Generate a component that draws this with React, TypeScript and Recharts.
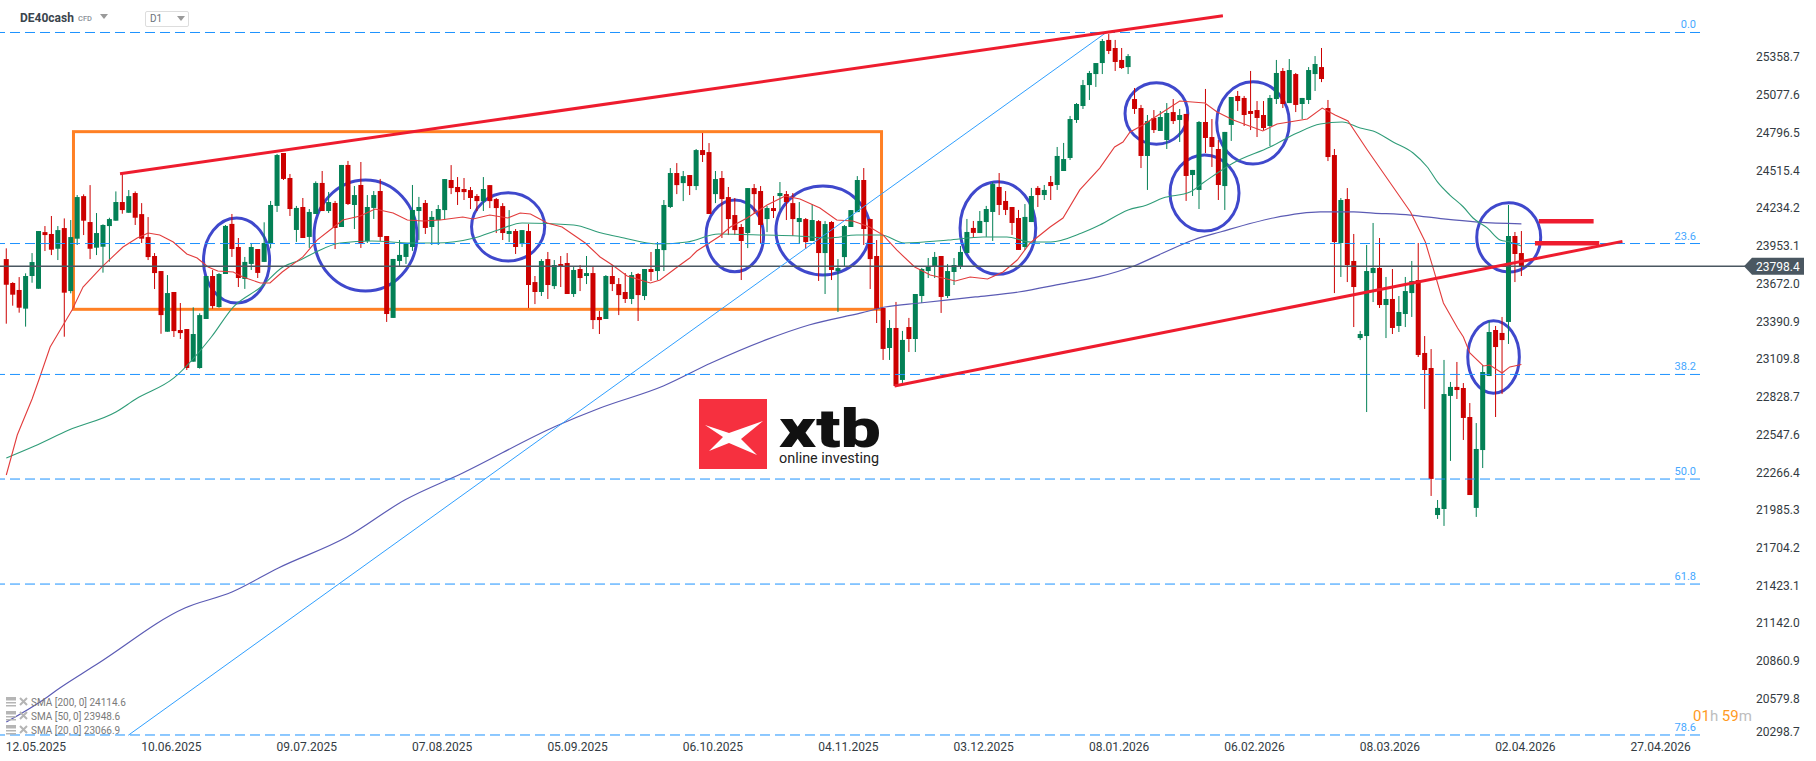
import React from "react";
import { ComposedChart, Bar, Line, XAxis, YAxis, ReferenceLine, ReferenceArea } from "recharts";

const candleOpen = [
23852,23674,23622,23483,23726,23631,24053,24039,23929,24083,
23614,24004,24321,24128,23937,23944,24098,24138,24277,24197,
24344,24187,24016,23875,23763,23311,23607,23324,23331,23088,
23041,23406,23726,23495,23741,24114,23942,23704,23816,23927,
23831,23965,24248,24642,24456,24069,24240,24017,24188,24419,
24210,24270,24091,24553,24255,24404,23987,24233,24359,24024,
23414,23838,23868,23942,24210,24270,24091,24143,24217,24441,
24389,24374,24366,24322,24284,24403,24299,24247,24039,24061,
23964,24061,23681,23607,23852,23651,23815,23823,23592,23778,
23726,23748,23421,23406,23726,23666,23607,23555,23741,23577,
23778,23763,23919,24240,24493,24418,24478,24396,24664,24649,
24336,24456,24314,24180,24091,24046,24381,24359,24150,24232,
24322,24336,24269,24128,24150,23987,24135,23897,24128,23763,
23867,24091,24202,24441,24150,23875,23488,23190,23339,22952,
23346,23257,23577,23763,23800,23875,23577,23756,23793,23897,
24084,24046,24128,24203,24389,24285,24240,24158,23942,24128,
24382,24329,24426,24404,24508,24605,24888,24992,25148,25230,
25312,25484,25424,25335,25282,25044,24977,24620,24903,24806,
24739,24947,24888,24933,24478,24367,24873,24761,24672,24396,
24851,25067,25052,24955,24962,24925,24843,25044,25253,25014,
25230,25007,25037,25230,25282,24977,24627,23972,24299,23838,
23264,23279,23748,23786,23510,23555,23354,23443,23599,23696,
23153,23041,21946,21991,22833,22900,22892,22676,21999,22430,
22981,23324,23302,23384,24024,23897];

const candleHigh = [
23932,23680,23718,23746,23897,24061,24098,24173,24098,24155,
24143,24329,24334,24403,24195,24111,24160,24356,24485,24366,
24356,24269,24165,23897,23763,23733,23607,23525,23331,23493,
23448,23726,23770,23748,24106,24188,24009,23868,23972,23927,
24126,24285,24635,24642,24486,24248,24307,24225,24431,24508,
24352,24285,24553,24583,24396,24575,24329,24359,24449,24024,
23853,23994,23965,24404,24315,24292,24210,24255,24448,24552,
24463,24456,24389,24336,24463,24403,24307,24269,24217,24076,
24068,24113,23726,23852,23905,23845,23875,23897,23793,23808,
23875,23793,23465,23733,23808,23711,23748,23756,23748,23778,
23905,23979,24292,24530,24567,24508,24478,24672,24791,24716,
24508,24508,24389,24307,24113,24381,24411,24396,24247,24322,
24426,24359,24344,24277,24158,24262,24143,24135,24135,23852,
24106,24217,24470,24530,24153,23994,23488,23398,23533,23317,
23414,23592,23786,23860,23905,23875,23815,23860,23950,24151,
24136,24210,24248,24426,24493,24359,24240,24218,24262,24382,
24396,24404,24471,24687,24717,24918,25014,25186,25253,25312,
25491,25528,25484,25424,25379,25126,25000,24925,24962,24955,
25014,25044,24970,24933,24516,24880,25119,24895,24739,24799,
25059,25104,25067,25253,25029,25029,25074,25335,25275,25342,
25238,25052,25282,25364,25424,25037,24672,24307,24381,24039,
23317,23957,24121,24009,23719,23778,23577,23719,23838,23972,
23279,23182,22058,23101,22937,23086,22929,22780,22631,23063,
23391,23354,23421,24255,24054,24061];

const candleLow = [
23371,23505,23453,23349,23676,23631,23912,23882,23845,23274,
23597,23957,24031,23852,23882,23751,23833,24138,24190,24197,
24106,23972,23845,23629,23296,23311,23272,23257,23026,23088,
23036,23406,23483,23490,23741,23868,23644,23630,23771,23711,
23831,23932,24203,24441,24173,23980,24009,23935,24188,24210,
24195,23927,24091,24255,24076,23935,23972,24151,23987,23384,
23414,23801,23816,23913,23994,24039,23957,23957,24143,24336,
24255,24292,24225,24210,24210,24232,24046,23994,23979,23890,
23942,23488,23517,23577,23555,23629,23644,23592,23570,23614,
23666,23331,23294,23406,23614,23435,23525,23517,23391,23547,
23689,23696,23763,24232,24336,24284,24329,24366,24575,24188,
24269,24009,24031,24031,23696,23934,24188,23969,24053,24158,
24217,24143,24024,23969,23927,23987,23689,23592,23696,23458,
23793,24091,24202,23957,23629,23376,23101,23101,22900,22930,
23160,23160,23525,23711,23711,23451,23562,23659,23778,23897,
24010,24046,24017,23987,24180,24180,24032,23920,23920,24128,
24240,24292,24292,24367,24508,24590,24866,24970,25037,25134,
25230,25379,25253,25268,25230,24933,24530,24367,24791,24806,
24672,24858,24724,24285,24322,24225,24642,24538,24292,24218,
24732,24955,24843,24813,24761,24813,24694,25007,24977,25014,
24947,24895,25007,25104,25170,24582,23599,23719,23681,23346,
23249,22713,23532,23488,23264,23294,23309,23346,23421,23123,
22736,22088,21917,21865,22349,22810,22505,22095,21932,22296,
22981,22676,22847,23220,23681,23726];

const candleClose = [
23661,23587,23490,23726,23830,24061,24031,23922,24068,23602,
24016,24314,24138,23929,24046,24106,24150,24277,24217,24321,
24160,24004,23867,23748,23435,23599,23316,23301,23041,23294,
23435,23726,23502,23741,24099,23927,23711,23831,23942,23749,
23972,24255,24627,24449,24225,24233,24009,24203,24419,24210,
24277,24084,24553,24262,24329,23972,24240,24329,24017,23443,
23853,23883,23965,24218,24240,24084,24166,24225,24448,24381,
24351,24351,24307,24284,24374,24284,24232,24046,24061,23942,
24068,23659,23607,23838,23659,23808,23800,23592,23771,23711,
23748,23398,23398,23726,23666,23584,23555,23733,23584,23778,
23756,23927,24255,24493,24403,24470,24396,24664,24627,24188,
24448,24299,24150,24068,23987,24381,24336,24106,24232,24210,
24344,24277,24150,24158,23979,24143,23897,24113,23771,23785,
24098,24217,24441,24076,23852,23483,23183,23339,22907,23250,
23257,23592,23778,23800,23868,23570,23763,23808,23905,24054,
24047,24136,24225,24411,24255,24218,24121,23920,24166,24322,
24329,24367,24396,24620,24597,24895,25007,25148,25238,25312,
25476,25402,25320,25275,25364,24970,24620,24880,24813,24910,
24940,24880,24925,24471,24516,24873,24754,24687,24404,24799,
25059,25029,24925,24933,24903,24828,25052,25238,25007,25260,
25000,25052,25260,25305,25193,24612,23979,24292,23808,23644,
23294,23763,23786,23510,23555,23339,23458,23614,23689,23138,
23026,22215,21999,22847,22900,22877,22669,22095,22438,23011,
23309,23197,23249,24024,23890,23798];

const sma20Idx = [1,2.7,5,6.1,7.8,11.2,12.9,15.8,19.1,21.3,23,24.8,26.9,29,30.6,32.3,33.8,36.2,37.7,40.4,41.9,43.8,47,49.2,51.2,53.2,55.9,58.2,61,63.2,65.6,68.3,71.8,73.4,76,78.8,80.7,82.3,84.9,87.2,89,90.8,93.1,95,97.3,100.9,102.4,105.5,107,108.1,111.7,113.3,115.9,119,121.8,124.1,127.2,129.8,132.3,134.9,137,139.1,141.9,144.3,148.2,150.5,153.2,155.6,157.8,159.8,162.9,164.9,167.5,170.6,172.9,174.2,175.3,177.3,180.4,183,186.9,188.8,191.3,195.9,198.1,202.8,205.1,207.1,209.1,212.1,216.1,218.8,221.1,222.3,223.9,226.1,227,228,230.1,231.1,233,234.2,236];
const sma20Val = [22244,22542,22810,22959,23197,23473,23644,23793,23942,24009,24046,24031,23979,23890,23860,23793,23763,23756,23719,23674,23674,23756,23868,23994,24069,24143,24173,24225,24195,24143,24136,24143,24165,24151,24180,24158,24195,24188,24121,24091,24031,23972,23868,23808,23726,23674,23696,23808,23860,23912,24024,24091,24158,24255,24322,24300,24233,24143,24136,24091,24031,23920,23793,23734,23689,23719,23704,23756,23845,23972,24091,24158,24367,24530,24687,24724,24799,24851,24947,25029,25014,24947,24888,24806,24858,24895,24977,24925,24880,24664,24389,24203,23979,23786,23525,23339,23272,23153,23056,23063,23004,23049,23067];

const sma50Idx = [1,5.4,10.7,18,21.1,27,32.8,36.2,40.5,43.9,46.6,49,52.8,57.7,63.8,67.5,73.6,77.3,81,89,93.3,96.1,102.2,106.6,111.5,118.8,123.8,128.6,132.9,136.7,140.3,147.1,152.5,156.2,159.9,163,167.8,170.6,175,177.9,180.4,184.6,186.6,191.3,197,201.2,204.8,208.2,211,213,216.1,219.2,221.4,223.1,224.9,227,228.5,230.7,232.7,234.2,236];
const sma50Val = [22371,22460,22579,22713,22810,22967,23272,23495,23644,23793,23845,23905,23972,23987,23972,23972,24009,24069,24121,24106,24046,24017,23964,23979,24039,24031,24024,24009,24031,24031,23972,23994,24017,24017,23979,23979,24046,24106,24218,24255,24307,24352,24419,24568,24687,24791,24858,24873,24828,24806,24724,24642,24538,24419,24329,24240,24158,24084,23994,23979,23949];

const sma200Idx = [1,6.7,9.3,12.9,15.1,28.7,36,43.2,53.8,62.8,71.8,86.3,93.1,102.9,110.3,118.8,125.5,133.6,137.3,142.7,151.3,158,164.7,170.3,175.9,180.4,185.1,189.3,197.5,204.8,210,213,218.8,223.9,229.2,236];
const sma200Val = [20405,20569,20658,20770,20837,21254,21373,21552,21782,22058,22259,22609,22743,22907,23078,23250,23361,23451,23495,23525,23570,23607,23667,23719,23801,23897,23994,24054,24158,24203,24203,24195,24180,24151,24128,24115];

const xTickIdx = [5.6,26.6,47.6,68.6,89.6,110.6,131.6,152.6,173.6,194.6,215.6,236.6,257.6];
const xTickLabels = ["12.05.2025","10.06.2025","09.07.2025","07.08.2025","05.09.2025","06.10.2025","04.11.2025","03.12.2025","08.01.2026","06.02.2026","08.03.2026","02.04.2026","27.04.2026"];
const yTicks = [25358.7,25077.6,24796.5,24515.4,24234.2,23953.1,23672.0,23390.9,23109.8,22828.7,22547.6,22266.4,21985.3,21704.2,21423.1,21142.0,20860.9,20579.8,20298.7];
const lastPrice = 23798.4;

const fibLevels = [25539.5,23968,22993,22214,21432,20308];
const fibLabels = ["0.0","23.6","38.2","50.0","61.8","78.6"];

// annotations in chart units: index from, index to, price from, price to
const rangeBox = [11.42,136.75,24801,23478];
const trendLines = [[18.64,24488,189.7,25664.6],[138.77,22907,251.67,23984]];
const shortLines = [[238.7,24133.5,247.2,24133.5],[238.1,23969.6,248.07,23969.6]];
const fibDiagonal = [19.92,20306,171.6,25539.5];
const circles = [
  [31.59,41.84,24158,23525],[48.73,64.7,24441,23614],[73.16,84.51,24346,23838],
  [109.52,118.46,24292,23758],[120.37,134.97,24396,23734],[148.93,160.67,24428,23739],
  [174.52,184.25,25166,24707],[188.74,200,25173,24560],[181.5,192.2,24627,24061],
  [229.07,238.99,24272,23756],[227.68,235.68,23393,22853],
];

const legendRows = ["SMA [200, 0] 24114.6","SMA [50, 0] 23948.6","SMA [20, 0] 23066.9"];

const candles = candleOpen.map((o, n) => ({
  i: n + 1, open: o, high: candleHigh[n], low: candleLow[n], close: candleClose[n],
  range: [candleLow[n], candleHigh[n]],
}));
const toPoints = (idx: number[], val: number[]) => idx.map((i, n) => ({ i, v: val[n] }));

const RED = "#cc0000";
const GREEN = "#038055";
const FONT = "Roboto, sans-serif";
const BODY_WIDTH = 5;

function CandleShape(p: any) {
  const { x, y, width, height, payload } = p;
  const { open, close, high, low } = payload;
  const k = height / Math.max(high - low, 1);
  const top = y + (high - Math.max(open, close)) * k;
  const bottom = y + (high - Math.min(open, close)) * k;
  const col = close >= open ? GREEN : RED;
  const cx = x + width / 2;
  return (
    <g>
      <line x1={cx} x2={cx} y1={y} y2={y + height} stroke={col} strokeWidth={1} />
      <rect x={cx - BODY_WIDTH / 2} y={top} width={BODY_WIDTH} height={Math.max(bottom - top, 1.5)} fill={col} />
    </g>
  );
}

function XTick(p: any) {
  const { x, y, payload } = p;
  const n = xTickIdx.indexOf(payload.value);
  return (
    <text x={x} y={y + 11.5} textAnchor="middle" fontSize={12} fontFamily={FONT} fill="#333b42">
      {xTickLabels[n]}
    </text>
  );
}

function YTick(p: any) {
  const { x, y, payload } = p;
  if (payload.value === lastPrice) {
    return (
      <g>
        <line x1={x} x2={x + 45} y1={y} y2={y} stroke="#4a5761" strokeWidth={1.4} />
        <polygon
          points={`${x + 44},${y} ${x + 52},${y - 8.5} ${x + 104},${y - 8.5} ${x + 104},${y + 8.5} ${x + 52},${y + 8.5}`}
          fill="#4a5761"
        />
        <text x={x + 56} y={y + 4.5} fontSize={12} fontFamily={FONT} fill="#ffffff">
          {payload.value.toFixed(1)}
        </text>
      </g>
    );
  }
  const ty = Math.min(y, 731);
  return (
    <text x={x + 56} y={ty + 4.5} fontSize={12} fontFamily={FONT} fill="#333b42">
      {payload.value.toFixed(1)}
    </text>
  );
}

function EllipseShape(p: any) {
  const { x, y, width, height } = p;
  return (
    <ellipse
      cx={x + width / 2} cy={y + height / 2} rx={width / 2} ry={height / 2}
      fill="none" stroke="#3f48cc" strokeWidth={3}
    />
  );
}

function BoxShape(p: any) {
  const { x, y, width, height } = p;
  return <rect x={x} y={y} width={width} height={height} fill="none" stroke="#ff8024" strokeWidth={3} />;
}

export default function App() {
  return (
    <div style={{ position: "absolute", left: 0, top: 0, width: 1816, height: 761, background: "#fff", overflow: "hidden", fontFamily: FONT }}>
      <ComposedChart width={1816} height={761} data={candles} margin={{ top: 0, right: 0, bottom: 0, left: 0 }}>
        <XAxis
          dataKey="i" type="number" domain={[0.023, 263.7]} ticks={xTickIdx} interval={0}
          height={24} tick={XTick} tickLine={false} axisLine={false} tickSize={0} allowDataOverflow
        />
        <YAxis
          orientation="right" type="number" domain={[20293, 25781.5]} ticks={[...yTicks, lastPrice]} interval={0}
          width={116} tick={YTick} tickLine={false} axisLine={false} tickSize={0} tickMargin={0} allowDataOverflow
        />
        <Bar dataKey="range" barSize={5} shape={CandleShape} isAnimationActive={false} />
        <Line type="monotone" data={toPoints(sma200Idx, sma200Val)} dataKey="v" stroke="#5b5bb4" strokeWidth={1.2} dot={false} activeDot={false} isAnimationActive={false} legendType="none" />
        <Line type="monotone" data={toPoints(sma50Idx, sma50Val)} dataKey="v" stroke="#2f9c78" strokeWidth={1.1} dot={false} activeDot={false} isAnimationActive={false} legendType="none" />
        <Line data={toPoints(sma20Idx, sma20Val)} dataKey="v" stroke="#e23c3c" strokeWidth={1.1} dot={false} activeDot={false} isAnimationActive={false} legendType="none" />
        <ReferenceLine y={lastPrice} stroke="#4a5761" strokeWidth={1.4} ifOverflow="visible" />
        {fibLevels.map((v, n) => (
          <ReferenceLine
            key={fibLabels[n]} y={v} stroke="#1c92ff" strokeWidth={1} strokeDasharray="10 5" ifOverflow="visible"
            label={{ value: fibLabels[n], position: "insideBottomRight", offset: 4, fontSize: 11, fontFamily: FONT, fill: "#46a8ff" }}
          />
        ))}
        <ReferenceLine
          segment={[{ x: fibDiagonal[0], y: fibDiagonal[1] }, { x: fibDiagonal[2], y: fibDiagonal[3] }]}
          stroke="#2f9fff" strokeWidth={1} ifOverflow="visible"
        />
        <ReferenceArea x1={rangeBox[0]} x2={rangeBox[1]} y1={rangeBox[2]} y2={rangeBox[3]} shape={BoxShape} ifOverflow="visible" />
        {trendLines.map((t, n) => (
          <ReferenceLine key={"t" + n} segment={[{ x: t[0], y: t[1] }, { x: t[2], y: t[3] }]} stroke="#ee1c2e" strokeWidth={3} ifOverflow="visible" />
        ))}
        {shortLines.map((t, n) => (
          <ReferenceLine key={"s" + n} segment={[{ x: t[0], y: t[1] }, { x: t[2], y: t[3] }]} stroke="#ee1c2e" strokeWidth={4.5} ifOverflow="visible" />
        ))}
        {circles.map((c, n) => (
          <ReferenceArea key={"c" + n} x1={c[0]} x2={c[1]} y1={c[2]} y2={c[3]} shape={EllipseShape} ifOverflow="visible" />
        ))}
      </ComposedChart>

      {/* header */}
      <div style={{ position: "absolute", left: 20, top: 11, fontSize: 12, fontWeight: 700, color: "#3a444d" }}>DE40cash</div>
      <div style={{ position: "absolute", left: 78, top: 14, fontSize: 7.5, fontWeight: 500, color: "#8a9299" }}>CFD</div>
      <svg style={{ position: "absolute", left: 100, top: 14 }} width={10} height={6}><polygon points="0,0 8,0 4,5" fill="#9a9a9a" /></svg>
      <div style={{ position: "absolute", left: 145, top: 11, width: 42, height: 14, border: "1px solid #dddddd", borderRadius: 2 }} />
      <div style={{ position: "absolute", left: 150, top: 13, fontSize: 10, color: "#6b747b" }}>D1</div>
      <svg style={{ position: "absolute", left: 177, top: 16 }} width={10} height={6}><polygon points="0,0 8,0 4,5" fill="#9a9a9a" /></svg>

      {/* logo */}
      <svg style={{ position: "absolute", left: 695, top: 395 }} width={200} height={80}>
        <rect x={4} y={4} width={68} height={70} fill="#f6303f" />
        <polygon points="10,30 34,38 68,26 46,44 62,60 34,48 14,56 28,42" fill="#ffffff" />
        <text x={84} y={52} fontSize={54} fontWeight={900} fontFamily={FONT} fill="#111111" textLength={102} lengthAdjust="spacingAndGlyphs">xtb</text>
        <text x={84} y={68} fontSize={14} fontFamily={FONT} fill="#222222" textLength={100} lengthAdjust="spacingAndGlyphs">online investing</text>
      </svg>

      {/* indicator legend */}
      {legendRows.map((r, n) => (
        <div key={r} style={{ position: "absolute", left: 6, top: 695 + n * 14, height: 14, display: "flex", alignItems: "center", fontSize: 10, color: "#7a7a7a", whiteSpace: "nowrap" }}>
          <svg width={25} height={12} style={{ marginRight: 0 }}>
            <rect x={0} y={1} width={10} height={3.5} fill="#b5b5b5" />
            <rect x={0} y={6} width={10} height={1.5} fill="#b5b5b5" />
            <rect x={0} y={9} width={10} height={1.5} fill="#b5b5b5" />
            <path d="M14 2 L21 9 M21 2 L14 9" stroke="#b5b5b5" strokeWidth={2} />
          </svg>
          {r}
        </div>
      ))}

      {/* countdown */}
      <div style={{ position: "absolute", left: 1693, top: 707, fontSize: 15, whiteSpace: "nowrap" }}>
        <span style={{ color: "#ff9a1f" }}>01</span>
        <span style={{ color: "#bdbdbd" }}>h </span>
        <span style={{ color: "#ff9a1f" }}>59</span>
        <span style={{ color: "#bdbdbd" }}>m</span>
      </div>
    </div>
  );
}
